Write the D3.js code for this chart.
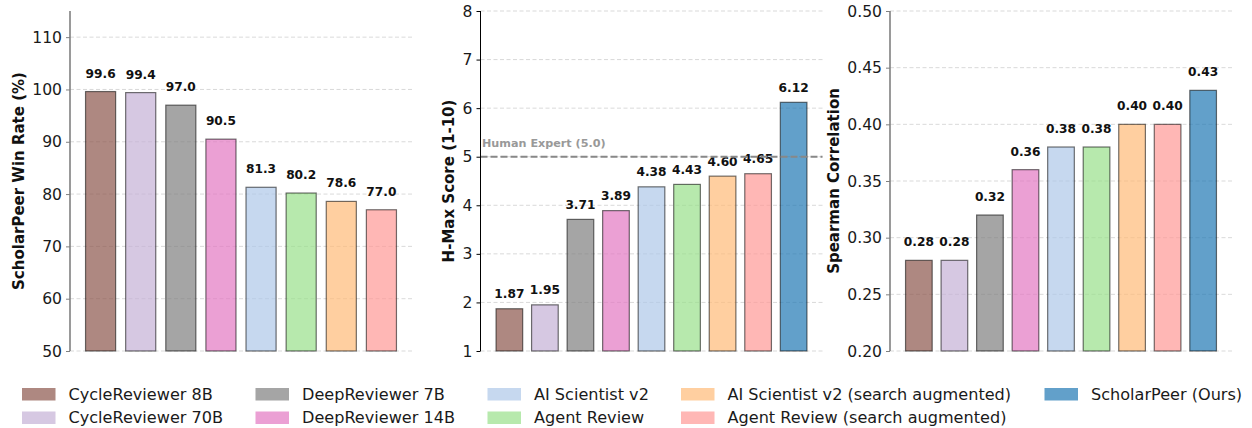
<!DOCTYPE html>
<html>
<head>
<meta charset="utf-8">
<script src="https://cdn.jsdelivr.net/npm/d3@7"></script>
<style>
  body { margin: 0; background: #fff; }
  svg { font-family: "DejaVu Sans", sans-serif; }
</style>
</head>
<body>
<div id="chart"></div>
<script>
// Models, colours (matplotlib tab palette, drawn with alpha 0.7)
const models = ["CycleReviewer 8B", "CycleReviewer 70B", "DeepReviewer 7B", "DeepReviewer 14B",
    "AI Scientist v2", "Agent Review", "AI Scientist v2 (search augmented)",
    "Agent Review (search augmented)", "ScholarPeer (Ours)"];
const colors = ["#8c564b", "#c5b0d5", "#7f7f7f", "#e377c2", "#aec7e8", "#98df8a", "#ffbb78", "#ff9896", "#1f77b4"];

// Panel data
const winRate = [99.6, 99.4, 97.0, 90.5, 81.3, 80.2, 78.6, 77.0];
const winRateLabels = ["99.6", "99.4", "97.0", "90.5", "81.3", "80.2", "78.6", "77.0"];
const winRateTicks = [50, 60, 70, 80, 90, 100, 110];

const hmax = [1.87, 1.95, 3.71, 3.89, 4.38, 4.43, 4.60, 4.65, 6.12];
const hmaxLabels = ["1.87", "1.95", "3.71", "3.89", "4.38", "4.43", "4.60", "4.65", "6.12"];
const hmaxTicks = [1, 2, 3, 4, 5, 6, 7, 8];
const humanExpert = 5.0;

const spearman = [0.28, 0.28, 0.32, 0.36, 0.38, 0.38, 0.40, 0.40, 0.43];
const spearmanLabels = ["0.28", "0.28", "0.32", "0.36", "0.38", "0.38", "0.40", "0.40", "0.43"];
const spearmanTicks = [0.20, 0.25, 0.30, 0.35, 0.40, 0.45, 0.50];

const W = 1252, H = 428;
const yTop = 11, yBottom = 351;

const svg = d3.select("#chart").append("svg")
    .attr("width", W)
    .attr("height", H);

const panels = [
    {values: winRate, labels: winRateLabels, ticks: winRateTicks, domain: [50, 115],
     fmt: d3.format("d"), x0: 70, title: "ScholarPeer Win Rate (%)", titleX: 18.5,
     spine: "#808080", labelOff: 14},
    {values: hmax, labels: hmaxLabels, ticks: hmaxTicks, domain: [1, 8],
     fmt: d3.format("d"), x0: 480.5, title: "H-Max Score (1-10)", titleX: 448.5,
     spine: "#000", labelOff: 10.5},
    {values: spearman, labels: spearmanLabels, ticks: spearmanTicks, domain: [0.2, 0.5],
     fmt: d3.format(".2f"), x0: 890, title: "Spearman Correlation", titleX: 833.5,
     spine: "#808080", labelOff: 14}
];

panels.forEach((p, pi) => {
    const n = p.values.length;
    const outer = 0.05 * (n - 0.25);
    const x = d3.scaleBand()
        .domain(d3.range(n))
        .range([p.x0, p.x0 + 342])
        .paddingInner(0.25)
        .paddingOuter(outer);
    const y = d3.scaleLinear().domain(p.domain).range([yBottom, yTop]);
    const x1 = x.range()[1];

    const g = svg.append("g");

    // Grid
    g.selectAll(".grid")
        .data(p.ticks)
        .enter().append("line")
        .attr("x1", p.x0).attr("x2", x1)
        .attr("y1", d => y(d)).attr("y2", d => y(d))
        .attr("stroke", "#cfcfcf")
        .attr("stroke-width", 0.8)
        .attr("stroke-dasharray", "4,2.5");

    // Bars
    g.selectAll(".bar")
        .data(p.values)
        .enter().append("rect")
        .attr("x", (d, i) => x(i))
        .attr("width", x.bandwidth())
        .attr("y", d => y(d))
        .attr("height", d => yBottom - y(d))
        .attr("fill", (d, i) => colors[i])
        .attr("fill-opacity", 0.7)
        .attr("stroke", "#000")
        .attr("stroke-opacity", 0.55)
        .attr("stroke-width", 1.2);

    // Value labels
    g.selectAll(".val")
        .data(p.values)
        .enter().append("text")
        .attr("x", (d, i) => x(i) + x.bandwidth() / 2)
        .attr("y", d => y(d) - p.labelOff)
        .attr("text-anchor", "middle")
        .attr("font-size", 12.2)
        .attr("font-weight", "bold")
        .attr("fill", "#111")
        .text((d, i) => p.labels[i]);

    // Human expert reference
    if (pi === 1) {
        g.append("line")
            .attr("x1", p.x0).attr("x2", x1)
            .attr("y1", y(humanExpert)).attr("y2", y(humanExpert))
            .attr("stroke", "#888")
            .attr("stroke-width", 2)
            .attr("stroke-dasharray", "7,3");
        g.append("text")
            .attr("x", p.x0 + 1.5)
            .attr("y", y(humanExpert) - 9.5)
            .attr("font-size", 11.2)
            .attr("font-weight", "bold")
            .attr("fill", "#999")
            .text("Human Expert (5.0)");
    }

    // Y axis
    const axis = g.append("g")
        .attr("transform", "translate(" + p.x0 + ",0)")
        .call(d3.axisLeft(y).tickValues(p.ticks).tickFormat(p.fmt).tickSize(4).tickPadding(4));
    axis.select(".domain").remove();
    axis.selectAll(".tick line").attr("stroke", p.spine);
    axis.selectAll(".tick text")
        .attr("font-size", 15.6)
        .attr("font-family", "DejaVu Sans")
        .attr("fill", "#1a1a1a");
    g.append("line")
        .attr("x1", p.x0).attr("x2", p.x0)
        .attr("y1", yTop).attr("y2", yBottom)
        .attr("stroke", p.spine)
        .attr("stroke-width", pi === 1 ? 1 : 1.6);

    // Axis title
    g.append("text")
        .attr("transform", "translate(" + p.titleX + "," + (yTop + yBottom) / 2 + ") rotate(-90)")
        .attr("text-anchor", "middle")
        .attr("dy", "0.36em")
        .attr("font-size", 15)
        .attr("font-weight", "bold")
        .attr("fill", "#111")
        .text(p.title);
});

// Legend: 5 columns, filled column by column
const legendCols = [22, 255.5, 487.5, 681, 1044.5];
const legendRows = [394, 417.5];
const legend = svg.append("g");
models.forEach((m, i) => {
    const cx = legendCols[Math.floor(i / 2)];
    const cy = legendRows[i % 2];
    legend.append("rect")
        .attr("x", cx).attr("y", cy - 6)
        .attr("width", 33.5).attr("height", 12.5)
        .attr("fill", colors[i])
        .attr("fill-opacity", 0.7);
    legend.append("text")
        .attr("x", cx + 46.5)
        .attr("y", cy)
        .attr("dy", "0.35em")
        .attr("font-size", 16.1)
        .attr("fill", "#1a1a1a")
        .text(m);
});
</script>
</body>
</html>
